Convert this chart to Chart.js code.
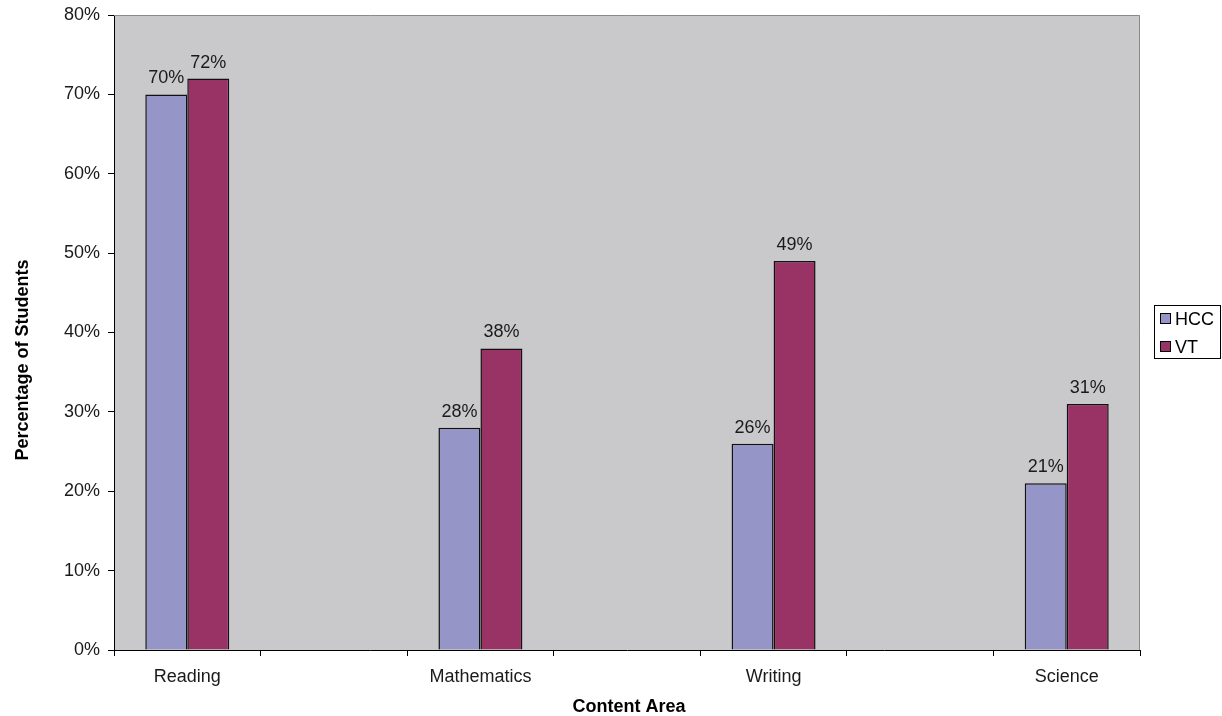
<!DOCTYPE html>
<html>
<head>
<meta charset="utf-8">
<script src="https://cdn.jsdelivr.net/npm/chart.js@4/dist/chart.umd.min.js"></script>
<style>
  html, body { margin: 0; padding: 0; background: #ffffff; }
  #wrap { width: 1222px; height: 716px; position: relative; }
</style>
</head>
<body>
<div id="wrap"><canvas id="chart"></canvas></div>
<script>
// Content areas; blank slots keep the wide spacing between groups
const categories = ['Reading', '', 'Mathematics', '', 'Writing', '', 'Science'];
const seriesNames = ['HCC', 'VT'];
const hccValues = [70, null, 28, null, 26, null, 21];
const vtValues = [72, null, 38, null, 49, null, 31];
const yTickValues = [0, 10, 20, 30, 40, 50, 60, 70, 80];

const FONT = '"Liberation Sans", Arial, sans-serif';
const HCC_COLOR = '#9595c8';
const VT_COLOR = '#993366';
const PLOT_BG = '#c9c9cb';

const decorations = {
  id: 'decorations',
  beforeDraw(chart) {
    const { ctx, chartArea: a } = chart;
    ctx.save();
    ctx.fillStyle = '#ffffff';
    ctx.fillRect(0, 0, chart.width, chart.height);
    ctx.fillStyle = PLOT_BG;
    ctx.fillRect(a.left, a.top, a.right - a.left, a.bottom - a.top);
    ctx.restore();
  },
  afterDraw(chart) {
    const { ctx, chartArea: a } = chart;
    ctx.save();

    // top and right frame of the plot area
    ctx.strokeStyle = '#8a8a8a';
    ctx.lineWidth = 1;
    ctx.beginPath();
    ctx.moveTo(a.left, Math.round(a.top) + 0.5);
    ctx.lineTo(Math.round(a.right) - 0.5, Math.round(a.top) + 0.5);
    ctx.lineTo(Math.round(a.right) - 0.5, a.bottom);
    ctx.stroke();

    // value labels above each bar
    ctx.fillStyle = '#1a1a1a';
    ctx.font = '18px ' + FONT;
    ctx.textAlign = 'center';
    ctx.textBaseline = 'alphabetic';
    chart.data.datasets.forEach((ds, di) => {
      const meta = chart.getDatasetMeta(di);
      meta.data.forEach((bar, i) => {
        const v = ds.data[i];
        if (v === null || v === undefined) return;
        ctx.fillText(v + '%', bar.x, bar.y - 11);
      });
    });

    // axis titles
    ctx.font = 'bold 18px ' + FONT;
    ctx.fillStyle = '#000000';
    ctx.textAlign = 'center';
    ctx.fillText('Content Area', 629, 712);
    ctx.save();
    ctx.translate(28, 360);
    ctx.rotate(-Math.PI / 2);
    ctx.fillText('Percentage of Students', 0, 0);
    ctx.restore();

    // legend
    ctx.fillStyle = '#ffffff';
    ctx.fillRect(1154, 305, 67, 54);
    ctx.strokeStyle = '#000000';
    ctx.strokeRect(1154.5, 305.5, 66, 53);
    const colors = [HCC_COLOR, VT_COLOR];
    const rows = [319, 347];
    ctx.font = '18px ' + FONT;
    ctx.textAlign = 'left';
    ctx.textBaseline = 'middle';
    seriesNames.forEach((name, i) => {
      ctx.fillStyle = colors[i];
      ctx.fillRect(1160, rows[i] - 6, 11, 11);
      ctx.strokeStyle = '#000000';
      ctx.strokeRect(1160.5, rows[i] - 5.5, 10, 10);
      ctx.fillStyle = '#000000';
      ctx.fillText(name, 1175, rows[i] + 1);
    });
    ctx.restore();
  }
};

new Chart(document.getElementById('chart'), {
  type: 'bar',
  data: {
    labels: categories,
    datasets: [
      {
        label: seriesNames[0],
        data: hccValues,
        backgroundColor: HCC_COLOR,
        borderColor: '#111111',
        borderWidth: 1.5,
        categoryPercentage: 0.573,
        barPercentage: 1.0
      },
      {
        label: seriesNames[1],
        data: vtValues,
        backgroundColor: VT_COLOR,
        borderColor: '#111111',
        borderWidth: 1.5,
        categoryPercentage: 0.573,
        barPercentage: 1.0
      }
    ]
  },
  options: {
    responsive: true,
    maintainAspectRatio: false,
    animation: false,
    devicePixelRatio: 1,
    layout: { padding: { left: 0, top: 15, right: 82, bottom: 0 } },
    plugins: {
      legend: { display: false },
      tooltip: { enabled: false }
    },
    scales: {
      x: {
        type: 'category',
        offset: true,
        grid: {
          offset: true,
          drawOnChartArea: false,
          tickLength: 6,
          color: '#000000'
        },
        border: { color: '#000000', width: 1 },
        ticks: {
          autoSkip: false,
          maxRotation: 0,
          color: '#1a1a1a',
          padding: 10,
          font: { family: FONT, size: 18 }
        },
        afterFit(scale) {
          scale.height = 66;
          scale.paddingLeft = 0;
          scale.paddingRight = 0;
        }
      },
      y: {
        min: 0,
        max: 80,
        afterBuildTicks(scale) {
          scale.ticks = yTickValues.map(v => ({ value: v }));
        },
        grid: {
          drawOnChartArea: false,
          tickLength: 6,
          color: '#000000'
        },
        border: { color: '#000000', width: 1 },
        ticks: {
          color: '#1a1a1a',
          padding: 8,
          font: { family: FONT, size: 18 },
          callback: v => v + '%'
        },
        afterFit(scale) {
          scale.width = 114;
          scale.paddingTop = 0;
          scale.paddingBottom = 0;
        }
      }
    }
  },
  plugins: [decorations]
});
</script>
</body>
</html>
